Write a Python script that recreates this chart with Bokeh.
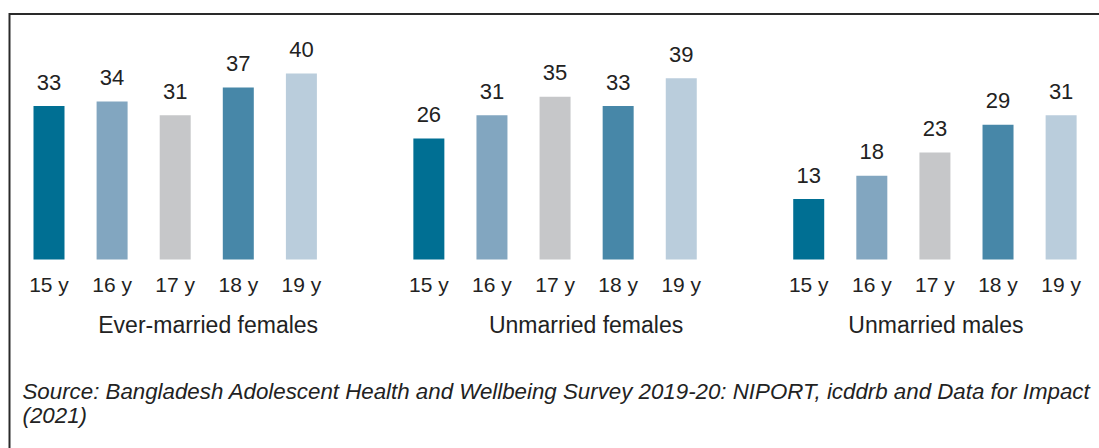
from bokeh.plotting import figure
from bokeh.models import ColumnDataSource, Range1d
from bokeh.core.properties import value
from bokeh.embed import file_html
from bokeh.resources import INLINE

# ---------------- data ----------------
groups = ["Ever-married females", "Unmarried females", "Unmarried males"]
ages = ["15 y", "16 y", "17 y", "18 y", "19 y"]
ever_married_females = [33, 34, 31, 37, 40]
unmarried_females = [26, 31, 35, 33, 39]
unmarried_males = [13, 18, 23, 29, 31]
series = [ever_married_females, unmarried_females, unmarried_males]
source_lines = [
    "Source: Bangladesh Adolescent Health and Wellbeing Survey 2019-20: NIPORT, icddrb and Data for Impact",
    "(2021)",
]

# ---------------- style ----------------
colors = ["#006f93", "#82a6c0", "#c6c7c9", "#4787a8", "#bacddc"]
group_label_offsets = [33, 31, 1]  # px
TEXT = "#222222"
FONT = "Liberation Sans"

W, H = 1099, 448
PX_PER_SLOT = 63.1
GROUP_STEP = 6.02
X0_PX = 48.5
BASE_PX = 259
PX_PER_UNIT = 4.65
SHIFT = -9  # text vertical correction (px)

x_start = -X0_PX / PX_PER_SLOT
x_end = x_start + W / PX_PER_SLOT
y_end = BASE_PX / PX_PER_UNIT
y_start = y_end - H / PX_PER_UNIT


def px_x(px):
    return x_start + px / PX_PER_SLOT


def px_y(py):
    return y_end - py / PX_PER_UNIT


xs, tops, labels, cols, ticks = [], [], [], [], []
for g, vals in enumerate(series):
    for i, v in enumerate(vals):
        xs.append(g * GROUP_STEP + i)
        tops.append(v)
        labels.append(str(v))
        cols.append(colors[i])
        ticks.append(ages[i])

src = ColumnDataSource(dict(x=xs, top=tops, label=labels, color=cols, tick=ticks))

p = figure(width=W, height=H, output_backend="svg", toolbar_location=None,
           x_range=Range1d(x_start, x_end), y_range=Range1d(y_start, y_end),
           min_border=0, outline_line_color=None)
p.xaxis.visible = False
p.yaxis.visible = False
p.xgrid.visible = False
p.ygrid.visible = False
p.background_fill_color = "white"
p.border_fill_color = "white"

p.vbar(x="x", top="top", bottom=0, width=31 / PX_PER_SLOT, fill_color="color",
       line_color=None, source=src)

p.text(x="x", y="top", text="label", source=src, text_align="center",
       text_baseline="alphabetic", y_offset=-15 + SHIFT, text_color=TEXT,
       text_font=value(FONT), text_font_size=value("22px"))

p.text(x="x", y=0, text="tick", source=src, text_align="center",
       text_baseline="alphabetic", y_offset=34 + SHIFT, text_color=TEXT,
       text_font=value(FONT), text_font_size=value("21px"))

gsrc = ColumnDataSource(dict(
    x=[g * GROUP_STEP + (len(ages) - 1) / 2 for g in range(len(groups))],
    name=groups,
    xo=group_label_offsets,
))
p.text(x="x", y=0, text="name", source=gsrc, x_offset="xo", text_align="center",
       text_baseline="alphabetic", y_offset=74 + SHIFT, text_color=TEXT,
       text_font=value(FONT), text_font_size=value("23px"))

# source note
p.text(x=[px_x(22)] * 2, y=[px_y(400), px_y(424)], text=source_lines,
       y_offset=SHIFT, text_align="left", text_baseline="alphabetic", text_color=TEXT,
       text_font=value(FONT), text_font_style="italic", text_font_size=value("22.3px"))

# frame (top + left edges visible)
p.line(x=[px_x(9), px_x(9), px_x(1300)], y=[px_y(600), px_y(13.5), px_y(13.5)],
       line_color="#2a2a2a", line_width=2, line_join="miter")

open("out.html", "w").write(file_html(p, INLINE))
